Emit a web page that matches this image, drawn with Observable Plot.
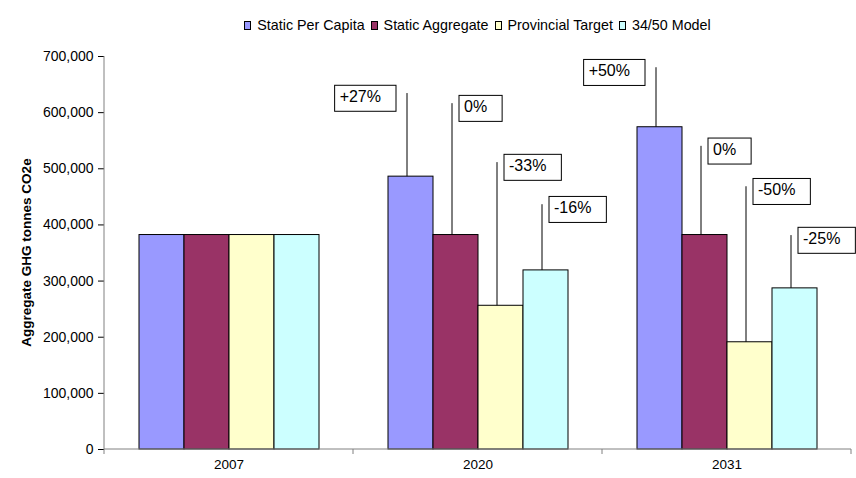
<!DOCTYPE html>
<html>
<head>
<meta charset="utf-8">
<script src="https://cdn.jsdelivr.net/npm/d3@7"></script>
<script src="https://cdn.jsdelivr.net/npm/@observablehq/plot@0.6"></script>
<style>
  body { margin: 0; background: #fff; font-family: "Liberation Sans", Arial, sans-serif; }
  #legend { width: 856px; height: 44px; box-sizing: border-box; padding-left: 99px; padding-top: 6px; display: flex; justify-content: center; align-items: center; font-size: 14.3px; color: #000; }
  #legend .item { display: flex; align-items: center; margin: 0 3px; }
  #legend .sw { display: inline-block; width: 5px; height: 7px; border: 1px solid #000; margin-right: 6px; }
  g[aria-label="y-axis tick"] { stroke: #808080; }
  g[aria-label="y-axis tick label"] text { font-size: 14px; }
  g[aria-label="fx-axis tick label"] text { font-size: 13.5px; }
</style>
</head>
<body>
<div id="legend"></div>
<div id="chart"></div>
<script>
const years = ["2007", "2020", "2031"];
const series = ["Static Per Capita", "Static Aggregate", "Provincial Target", "34/50 Model"];
const colors = ["#9999FF", "#993366", "#FFFFCC", "#CCFFFF"];
const values2007 = [382000, 382000, 382000, 382000];
const values2020 = [486000, 382000, 256000, 319000];
const values2031 = [574000, 382000, 191000, 287000];
const changeLabels2020 = ["+27%", "0%", "-33%", "-16%"];
const changeLabels2031 = ["+50%", "0%", "-50%", "-25%"];
const leaderTops2020 = [634000, 616000, 511000, 436000];
const leaderTops2031 = [680000, 540000, 468000, 381000];
const yTicks = [0, 100000, 200000, 300000, 400000, 500000, 600000, 700000];
const yTitle = "Aggregate GHG tonnes CO2e";

const valuesByYear = [values2007, values2020, values2031];
const table = [];
years.forEach((yr, yi) => series.forEach((s, si) => table.push({year: yr, series: s, value: valuesByYear[yi][si]})));

const labels = [];
[[years[1], changeLabels2020, leaderTops2020, values2020], [years[2], changeLabels2031, leaderTops2031, values2031]].forEach(([yr, labs, tops, vals]) => {
  series.forEach((s, si) => labels.push({year: yr, series: s, label: labs[si], top: tops[si], value: vals[si], left: si === 0}));
});

// legend
const legend = d3.select("#legend");
series.forEach((s, i) => {
  const it = legend.append("div").attr("class", "item");
  it.append("span").attr("class", "sw").style("background", colors[i]);
  it.append("span").text(s);
});

const decor = Plot.ruleY(years.map(y => ({year: y})), {
  fx: "year", y: 0,
  render(index, scales, values, dims, ctx) {
    const g = d3.create("svg:g").attr("stroke", "#808080").attr("fill", "none");
    const xs = scales.x, ys = scales.y;
    let x0, x1;
    if (xs.range) { [x0, x1] = xs.range(); }
    else { const bw = xs.bandwidth(); x0 = xs(series[0]) - 0.75 * bw; x1 = xs(series[series.length - 1]) + 1.75 * bw; }
    const y0 = ys(0);
    for (const i of index) {
      g.append("line").attr("x1", x0).attr("x2", x1).attr("y1", y0).attr("y2", y0);
      g.append("line").attr("x1", x1).attr("x2", x1).attr("y1", y0).attr("y2", y0 + 5);
      if (i === 0) {
        g.append("line").attr("x1", x0).attr("x2", x0).attr("y1", ys(yTicks[yTicks.length - 1])).attr("y2", y0 + 5);
        g.append("text")
          .attr("transform", `translate(${x0 - 78},${(ys(0) + ys(yTicks[yTicks.length - 1])) / 2}) rotate(-90)`)
          .attr("text-anchor", "middle").attr("stroke", "none").attr("fill", "#000")
          .attr("font-size", 13.5).attr("font-weight", "bold").attr("dy", "0.35em")
          .text(yTitle);
      }
    }
    return g.node();
  }
});

const plot = Plot.plot({
  width: 856,
  height: 434,
  marginLeft: 103,
  marginRight: 5,
  marginTop: 12,
  marginBottom: 29,
  style: {fontFamily: "'Liberation Sans', Arial, sans-serif", fontSize: "14px", color: "#000", background: "#fff"},
  fx: {domain: years, padding: 0, axis: "bottom", label: null, tickSize: 0, tickPadding: 10},
  x: {domain: series, paddingInner: 0, paddingOuter: 0.75, axis: null},
  y: {domain: [0, 700000], ticks: yTicks, tickFormat: d3.format(","), tickSize: 6, tickPadding: 5, label: null},
  color: {domain: series, range: colors},
  marks: [
    Plot.barY(table, {fx: "year", x: "series", y: "value", fill: "series", stroke: "#000", strokeWidth: 1, inset: 0}),
    decor,
    Plot.ruleX(labels, {fx: "year", x: "series", y1: "value", y2: "top", stroke: "#000", strokeWidth: 1, dx: -4}),
    Plot.text(labels.filter(d => !d.left), {fx: "year", x: "series", y: "top", text: "label", textAnchor: "start", dx: 8, dy: 3.6, fontSize: 16, fill: "#000"}),
    Plot.text(labels.filter(d => d.left), {fx: "year", x: "series", y: "top", text: "label", textAnchor: "end", dx: -30, dy: 3.6, fontSize: 16, fill: "#000"})
  ]
});
document.getElementById("chart").appendChild(plot);

// boxes around change labels
plot.querySelectorAll('g[aria-label="text"] text').forEach(t => {
  const b = t.getBBox();
  const r = document.createElementNS("http://www.w3.org/2000/svg", "rect");
  r.setAttribute("x", b.x - 5);
  r.setAttribute("y", b.y - 3);
  r.setAttribute("width", b.width + 20);
  r.setAttribute("height", 26);
  r.setAttribute("fill", "#fff");
  r.setAttribute("stroke", "#000");
  r.setAttribute("stroke-width", 1);
  if (t.getAttribute("transform")) r.setAttribute("transform", t.getAttribute("transform"));
  t.parentNode.insertBefore(r, t);
});
</script>
</body>
</html>
